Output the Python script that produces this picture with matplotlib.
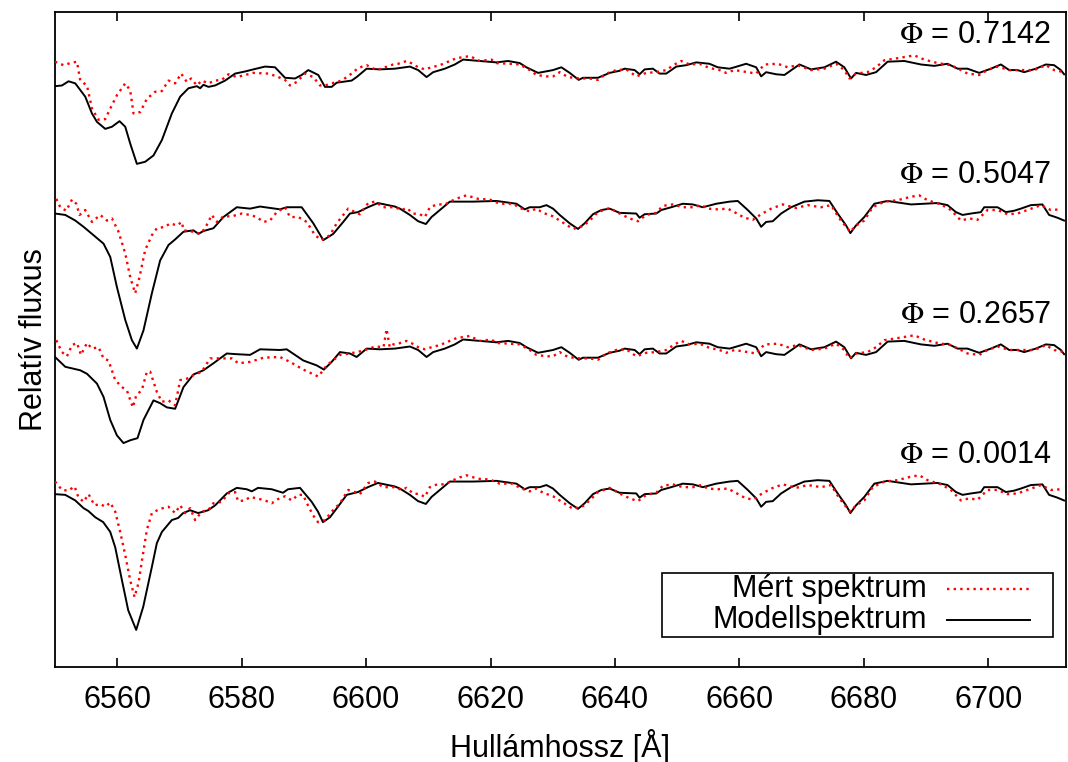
import matplotlib.pyplot as plt
from matplotlib.patches import Rectangle

plt.rcParams['font.family'] = ['Liberation Sans', 'DejaVu Sans']
plt.rcParams['mathtext.fontset'] = 'stix'

# phases and vertical shifts of the spectra
phases = ['0.0014', '0.2657', '0.5047', '0.7142']
shifts = [0.0, 0.2, 0.4, 0.6]

# model spectrum, phase 0.0014
wl_mod_0014 = [6550.0, 6551.65, 6553.26, 6554.59, 6555.35, 6556.47, 6557.75, 6558.88, 6559.68, 6560.76,
               6561.77, 6563.05, 6564.18, 6565.57, 6566.37, 6567.18, 6568.78, 6569.79, 6570.60, 6571.72,
               6573.01, 6574.61, 6575.74, 6577.61, 6579.22, 6580.82, 6581.63, 6582.64, 6584.84, 6586.65,
               6587.45, 6589.38, 6591.26, 6592.27, 6593.07, 6594.20, 6595.48, 6596.88, 6598.69, 6600.30,
               6601.90, 6604.63, 6605.44, 6607.04, 6608.37, 6609.61, 6610.52, 6611.86, 6613.46, 6617.20,
               6620.96, 6624.17, 6625.50, 6626.30, 6627.91, 6628.99, 6630.05, 6631.12, 6632.73, 6634.06,
               6635.13, 6636.47, 6637.81, 6639.15, 6640.75, 6643.43, 6643.96, 6644.77, 6646.64, 6647.45,
               6649.05, 6650.91, 6652.52, 6654.13, 6656.28, 6658.41, 6659.74, 6661.35, 6662.70, 6663.50,
               6664.30, 6665.36, 6666.71, 6668.32, 6670.45, 6672.59, 6674.47, 6675.80, 6677.15, 6677.84,
               6678.75, 6680.08, 6681.69, 6683.82, 6687.58, 6691.85, 6693.46, 6694.81, 6695.87, 6697.22,
               6698.82, 6699.35, 6701.49, 6702.83, 6704.17, 6705.24, 6706.85, 6708.71, 6709.78, 6711.12,
               6712.19]
fl_mod_0014 = [0.980, 0.979, 0.971, 0.960, 0.956, 0.947, 0.940, 0.926, 0.904, 0.857,
               0.814, 0.786, 0.819, 0.876, 0.910, 0.926, 0.943, 0.946, 0.953, 0.957,
               0.953, 0.957, 0.964, 0.981, 0.989, 0.987, 0.984, 0.989, 0.987, 0.982,
               0.987, 0.989, 0.969, 0.955, 0.940, 0.947, 0.962, 0.979, 0.983, 0.990,
               0.996, 0.991, 0.988, 0.979, 0.970, 0.966, 0.976, 0.986, 0.998, 0.998,
               0.999, 0.995, 0.987, 0.990, 0.990, 0.993, 0.988, 0.979, 0.967, 0.959,
               0.967, 0.980, 0.986, 0.988, 0.982, 0.981, 0.975, 0.980, 0.981, 0.986,
               0.990, 0.995, 0.994, 0.990, 0.995, 0.998, 0.999, 0.986, 0.974, 0.962,
               0.969, 0.970, 0.981, 0.990, 0.998, 1.000, 0.999, 0.981, 0.964, 0.953,
               0.964, 0.976, 0.995, 0.999, 0.994, 0.996, 0.993, 0.983, 0.979, 0.981,
               0.983, 0.990, 0.990, 0.983, 0.985, 0.988, 0.993, 0.994, 0.979, 0.975,
               0.971]

# measured spectrum, phase 0.0014
wl_obs_0014 = [6550.0, 6551.12, 6552.14, 6553.15, 6553.74, 6554.59, 6555.39, 6556.36, 6557.27, 6558.08,
               6558.88, 6559.68, 6560.48, 6561.29, 6562.09, 6562.78, 6563.42, 6564.06, 6564.77, 6565.57,
               6566.90, 6568.24, 6569.31, 6570.12, 6570.92, 6571.72, 6572.52, 6573.60, 6574.61, 6575.46,
               6576.81, 6577.82, 6578.95, 6579.43, 6580.55, 6581.35, 6582.43, 6583.76, 6584.84, 6585.85,
               6586.97, 6588.05, 6589.06, 6589.86, 6590.66, 6591.47, 6592.27, 6593.39, 6594.47, 6595.80,
               6597.13, 6598.21, 6599.01, 6600.34, 6601.42, 6602.75, 6604.63, 6605.71, 6606.51, 6607.57,
               6608.64, 6609.45, 6610.25, 6611.42, 6612.66, 6613.73, 6615.07, 6616.14, 6618.00, 6619.88,
               6621.49, 6623.62, 6624.70, 6626.30, 6627.38, 6628.44, 6630.05, 6631.65, 6633.26, 6634.86,
               6635.94, 6637.27, 6639.15, 6640.75, 6642.36, 6643.69, 6645.04, 6646.64, 6647.70, 6649.31,
               6650.91, 6652.52, 6653.87, 6654.93, 6656.53, 6658.14, 6659.21, 6660.82, 6662.15, 6663.50,
               6665.11, 6666.97, 6669.12, 6670.98, 6673.13, 6674.74, 6676.07, 6677.15, 6677.84, 6678.75,
               6680.08, 6681.42, 6683.30, 6685.43, 6687.58, 6688.91, 6690.25, 6692.40, 6694.00, 6695.61,
               6696.94, 6698.28, 6699.88, 6701.49, 6703.09, 6704.70, 6706.30, 6708.45, 6710.06, 6711.67]
fl_obs_0014 = [0.998, 0.986, 0.985, 0.991, 0.976, 0.969, 0.980, 0.964, 0.966, 0.962,
               0.968, 0.955, 0.926, 0.893, 0.857, 0.833, 0.853, 0.890, 0.929, 0.953,
               0.959, 0.962, 0.953, 0.964, 0.953, 0.960, 0.943, 0.955, 0.957, 0.967,
               0.969, 0.981, 0.983, 0.970, 0.971, 0.976, 0.974, 0.971, 0.967, 0.973,
               0.977, 0.971, 0.979, 0.979, 0.964, 0.950, 0.940, 0.943, 0.955, 0.967,
               0.986, 0.983, 0.980, 0.996, 0.998, 0.990, 0.990, 0.986, 0.989, 0.981,
               0.980, 0.976, 0.990, 0.994, 0.994, 0.999, 1.004, 1.007, 1.002, 1.001,
               0.995, 0.995, 0.989, 0.984, 0.988, 0.982, 0.977, 0.968, 0.959, 0.963,
               0.971, 0.983, 0.989, 0.981, 0.974, 0.970, 0.979, 0.982, 0.992, 0.994,
               0.990, 0.990, 0.993, 0.988, 0.987, 0.988, 0.983, 0.975, 0.972, 0.980,
               0.988, 0.994, 0.989, 0.993, 0.990, 0.993, 0.974, 0.962, 0.955, 0.964,
               0.971, 0.990, 0.998, 1.000, 1.005, 1.007, 1.000, 0.994, 0.986, 0.971,
               0.974, 0.972, 0.986, 0.986, 0.980, 0.981, 0.986, 0.993, 0.986, 0.987]

# model spectrum, phase 0.7142
wl_mod_7142 = [6550.0, 6551.12, 6552.18, 6553.26, 6554.86, 6555.94, 6556.74, 6558.08, 6559.15, 6560.37,
               6561.29, 6562.09, 6563.16, 6564.50, 6565.83, 6567.18, 6568.78, 6570.12, 6571.45, 6572.80,
               6573.33, 6573.86, 6574.66, 6575.73, 6577.34, 6578.95, 6580.55, 6581.88, 6583.76, 6585.37,
               6586.97, 6588.58, 6589.65, 6590.71, 6592.32, 6593.39, 6594.47, 6595.27, 6597.68, 6598.48,
               6600.09, 6602.22, 6604.63, 6607.04, 6608.37, 6609.72, 6610.78, 6612.66, 6614.26, 6615.60,
               6618.28, 6620.96, 6622.82, 6624.70, 6625.77, 6627.64, 6630.05, 6631.39, 6632.73, 6634.17,
               6634.86, 6637.27, 6639.15, 6640.75, 6641.56, 6643.17, 6643.96, 6644.77, 6646.10, 6647.18,
               6648.25, 6649.86, 6651.46, 6653.07, 6655.20, 6656.53, 6658.41, 6659.21, 6661.09, 6662.70,
               6663.50, 6664.30, 6665.91, 6667.24, 6669.65, 6671.53, 6673.67, 6675.54, 6676.87, 6677.95,
               6678.75, 6680.36, 6681.97, 6683.83, 6686.51, 6689.19, 6691.33, 6693.46, 6695.07, 6696.67,
               6698.55, 6700.43, 6702.03, 6703.37, 6704.70, 6705.78, 6707.65, 6709.26, 6710.59, 6711.67,
               6712.20]
fl_mod_7142 = [0.963, 0.964, 0.970, 0.967, 0.948, 0.924, 0.912, 0.902, 0.905, 0.913,
               0.905, 0.881, 0.852, 0.855, 0.864, 0.886, 0.924, 0.948, 0.960, 0.963,
               0.960, 0.965, 0.962, 0.964, 0.971, 0.981, 0.984, 0.987, 0.991, 0.990,
               0.975, 0.974, 0.979, 0.986, 0.979, 0.962, 0.962, 0.968, 0.971, 0.976,
               0.988, 0.987, 0.988, 0.991, 0.986, 0.976, 0.983, 0.988, 0.994, 1.001,
               0.999, 0.997, 0.999, 0.996, 0.990, 0.982, 0.986, 0.990, 0.982, 0.972,
               0.975, 0.975, 0.982, 0.985, 0.988, 0.986, 0.980, 0.987, 0.988, 0.981,
               0.981, 0.991, 0.993, 0.997, 0.995, 0.990, 0.988, 0.990, 0.995, 0.990,
               0.977, 0.983, 0.980, 0.979, 0.994, 0.987, 0.990, 0.998, 0.990, 0.974,
               0.982, 0.979, 0.983, 0.998, 0.999, 0.994, 0.992, 0.995, 0.988, 0.988,
               0.982, 0.988, 0.994, 0.986, 0.986, 0.983, 0.988, 0.994, 0.993, 0.986,
               0.980]

# measured spectrum, phase 0.7142
wl_obs_7142 = [6550.0, 6551.38, 6552.46, 6553.53, 6554.06, 6555.14, 6555.94, 6557.00, 6558.08, 6558.88,
               6559.95, 6561.29, 6562.09, 6562.62, 6563.69, 6564.77, 6566.10, 6567.18, 6568.24, 6569.31,
               6570.28, 6571.19, 6571.88, 6572.80, 6573.60, 6574.66, 6575.73, 6576.81, 6577.87, 6579.22,
               6580.55, 6581.88, 6584.29, 6585.64, 6586.97, 6587.77, 6588.85, 6590.18, 6591.52, 6592.59,
               6593.39, 6594.47, 6596.07, 6597.68, 6598.74, 6600.09, 6601.69, 6603.03, 6604.36, 6605.16,
               6606.51, 6607.47, 6608.37, 6609.45, 6610.52, 6611.86, 6613.19, 6614.54, 6616.67, 6618.28,
               6620.15, 6620.96, 6623.09, 6624.70, 6626.30, 6627.38, 6628.99, 6630.05, 6631.12, 6632.45,
               6634.33, 6635.94, 6637.27, 6638.62, 6640.22, 6641.83, 6643.43, 6645.04, 6646.64, 6648.25,
               6649.58, 6650.66, 6651.99, 6653.60, 6655.20, 6656.81, 6657.88, 6659.21, 6661.35, 6662.70,
               6664.03, 6666.17, 6667.77, 6669.38, 6671.53, 6673.67, 6675.54, 6676.87, 6677.68, 6678.75,
               6680.61, 6681.96, 6683.30, 6685.43, 6688.11, 6689.72, 6691.85, 6694.00, 6695.61, 6696.67,
               6698.55, 6699.88, 6701.49, 6703.37, 6705.24, 6707.38, 6709.26, 6710.59, 6712.20]
fl_obs_7142 = [0.998, 0.993, 0.996, 0.998, 0.971, 0.964, 0.931, 0.915, 0.916, 0.931,
               0.950, 0.967, 0.957, 0.924, 0.926, 0.945, 0.955, 0.956, 0.971, 0.967,
               0.981, 0.969, 0.974, 0.964, 0.971, 0.967, 0.971, 0.972, 0.980, 0.976,
               0.979, 0.982, 0.981, 0.977, 0.972, 0.964, 0.969, 0.981, 0.976, 0.964,
               0.964, 0.967, 0.971, 0.981, 0.989, 0.993, 0.986, 0.990, 0.994, 0.995,
               0.999, 0.995, 0.990, 0.987, 0.990, 0.993, 0.998, 1.003, 1.006, 0.999,
               1.001, 0.996, 0.995, 0.994, 0.986, 0.979, 0.977, 0.977, 0.983, 0.976,
               0.974, 0.974, 0.972, 0.981, 0.986, 0.987, 0.977, 0.982, 0.983, 0.986,
               0.994, 0.999, 0.994, 0.995, 0.989, 0.986, 0.982, 0.986, 0.983, 0.981,
               0.994, 0.995, 0.990, 0.993, 0.986, 0.988, 0.995, 0.986, 0.974, 0.981,
               0.983, 0.990, 1.000, 1.003, 1.007, 1.001, 0.996, 0.993, 0.986, 0.981,
               0.979, 0.986, 0.991, 0.986, 0.986, 0.986, 0.993, 0.986, 0.983]

# H-alpha region of phase 0.2657 (read separately, the rest follows phase 0.7142)
wl_mod_2657_ha = [6550.0, 6551.65, 6554.06, 6555.14, 6556.74, 6557.80, 6558.88, 6559.95, 6561.01, 6562.09,
                  6563.26, 6564.22, 6565.83, 6566.90, 6567.98, 6569.31, 6570.65, 6572.25, 6573.86, 6575.46,
                  6577.61, 6579.22, 6581.35, 6582.96, 6586.17, 6587.24, 6589.91, 6592.06, 6593.23, 6594.47,
                  6595.80, 6597.41]
fl_mod_2657_ha = [0.976, 0.962, 0.957, 0.952, 0.938, 0.919, 0.886, 0.864, 0.853, 0.857,
                  0.860, 0.886, 0.914, 0.910, 0.904, 0.902, 0.933, 0.951, 0.957, 0.967,
                  0.981, 0.980, 0.979, 0.987, 0.986, 0.987, 0.971, 0.964, 0.958, 0.969,
                  0.983, 0.981]
wl_obs_2657_ha = [6550.2, 6551.12, 6551.93, 6552.73, 6553.53, 6554.17, 6555.14, 6555.94, 6557.00, 6557.80,
                  6558.60, 6559.68, 6560.76, 6561.56, 6562.52, 6563.05, 6563.97, 6564.77, 6565.30, 6566.37,
                  6567.18, 6568.24, 6569.31, 6570.12, 6571.19, 6572.25, 6573.60, 6574.93, 6576.01, 6577.07,
                  6578.42, 6579.48, 6581.35, 6583.49, 6586.17, 6587.77, 6589.91, 6592.32, 6593.67, 6595.80,
                  6597.41, 6599.5, 6601.5, 6602.8, 6603.3, 6603.8]
fl_obs_2657_ha = [1.000, 0.983, 0.977, 0.993, 0.996, 0.979, 0.996, 0.988, 0.990, 0.974,
                  0.971, 0.943, 0.933, 0.928, 0.904, 0.921, 0.929, 0.955, 0.955, 0.926,
                  0.912, 0.914, 0.907, 0.943, 0.945, 0.950, 0.955, 0.974, 0.974, 0.974,
                  0.974, 0.967, 0.969, 0.975, 0.976, 0.969, 0.958, 0.948, 0.964, 0.979,
                  0.981, 0.985, 0.991, 0.990, 1.016, 0.990]

# H-alpha region of phase 0.5047 (read separately, the rest follows phase 0.0014)
wl_mod_5047_ha = [6550.0, 6551.65, 6553.26, 6554.59, 6556.20, 6557.80, 6558.88, 6559.95, 6561.29, 6562.36,
                  6563.16, 6564.22, 6565.57, 6566.90, 6568.24, 6569.31, 6570.65, 6572.25, 6573.05, 6573.86,
                  6575.46, 6577.07, 6579.22, 6581.35, 6582.96, 6586.17, 6587.24, 6589.65, 6591.52, 6593.12,
                  6594.73, 6596.33, 6597.41]
fl_mod_5047_ha = [0.981, 0.979, 0.971, 0.962, 0.950, 0.938, 0.919, 0.876, 0.829, 0.800,
                  0.788, 0.814, 0.867, 0.914, 0.936, 0.944, 0.955, 0.957, 0.952, 0.956,
                  0.960, 0.976, 0.990, 0.988, 0.991, 0.987, 0.990, 0.990, 0.967, 0.943,
                  0.952, 0.969, 0.981]
wl_obs_5047_ha = [6550.2, 6550.85, 6551.81, 6552.73, 6553.42, 6553.95, 6554.86, 6555.94, 6557.27, 6558.35,
                  6559.15, 6560.21, 6561.29, 6562.09, 6562.89, 6563.58, 6564.50, 6565.57, 6566.37, 6567.71,
                  6568.51, 6569.59, 6570.39, 6570.65, 6572.25, 6573.33, 6574.13, 6575.20, 6576.01, 6577.07,
                  6578.42, 6580.02, 6581.35, 6582.43, 6583.49, 6584.56, 6585.64, 6586.97, 6587.77, 6589.11,
                  6590.46, 6591.79, 6592.86, 6594.20, 6595.27, 6597.13]
fl_obs_5047_ha = [1.002, 0.990, 0.985, 1.001, 0.995, 0.979, 0.986, 0.969, 0.979, 0.971,
                  0.974, 0.955, 0.924, 0.890, 0.867, 0.890, 0.929, 0.950, 0.960, 0.962,
                  0.967, 0.964, 0.969, 0.957, 0.955, 0.952, 0.960, 0.979, 0.969, 0.977,
                  0.977, 0.981, 0.979, 0.976, 0.969, 0.971, 0.983, 0.990, 0.976, 0.976,
                  0.969, 0.950, 0.943, 0.950, 0.967, 0.988]


def join(wa, fa, wb, fb):
    # H-alpha part from (wa, fa), the metal-line part from (wb, fb)
    tail = [(w, f) for w, f in zip(wb, fb) if w > wa[-1] + 0.3]
    return list(wa) + [w for w, f in tail], list(fa) + [f for w, f in tail]


models = [(wl_mod_0014, fl_mod_0014),
          join(wl_mod_2657_ha, fl_mod_2657_ha, wl_mod_7142, fl_mod_7142),
          join(wl_mod_5047_ha, fl_mod_5047_ha, wl_mod_0014, fl_mod_0014),
          (wl_mod_7142, fl_mod_7142)]
observed = [(wl_obs_0014, fl_obs_0014),
            join(wl_obs_2657_ha, fl_obs_2657_ha, wl_obs_7142, fl_obs_7142),
            join(wl_obs_5047_ha, fl_obs_5047_ha, wl_obs_0014, fl_obs_0014),
            (wl_obs_7142, fl_obs_7142)]

fig = plt.figure(figsize=(10.68, 7.62), dpi=100)
ax = fig.add_axes([55 / 1068, 95 / 762, 1011 / 1068, 655 / 762])

red = '#ff0000'
for (wm, fm), (wo, fo), sh in zip(models, observed, shifts):
    ax.plot(wm, [f + sh for f in fm], color='black', lw=1.4, zorder=2)
    ax.plot(wo, [f + sh for f in fo], color=red, lw=1.7, linestyle=(0, (1.0, 1.8)), zorder=3)

for ph, sh in zip(phases, shifts):
    ax.text(6710.1, 1.036 + sh, r'$\Phi$ = ' + ph, ha='right', va='center', fontsize=22)

ax.set_xlim(6550, 6712.5)
ax.set_ylim(0.733, 1.669)
ax.set_xticks(range(6560, 6701, 20))
ax.set_yticks([])
ax.tick_params(axis='x', direction='in', length=6.5, width=1.2, top=True, labelsize=22, pad=13)
for s in ax.spines.values():
    s.set_linewidth(1.3)

ax.set_xlabel('Hullámhossz [Å]', fontsize=22, labelpad=10)
ax.set_ylabel('Relatív fluxus', fontsize=22, labelpad=4)

# legend box, gnuplot style (text right aligned, sample on the right)
ax.add_patch(Rectangle((0.6007, 0.046), 0.3863, 0.0977, transform=ax.transAxes,
                       fill=False, lw=1.2, edgecolor='black', zorder=5))
ax.text(0.8626, 0.1195, 'Mért spektrum', transform=ax.transAxes, ha='right', va='center', fontsize=22)
ax.text(0.8626, 0.0722, 'Modellspektrum', transform=ax.transAxes, ha='right', va='center', fontsize=22)
ax.plot([0.882, 0.9645], [0.1195, 0.1195], transform=ax.transAxes, color=red, lw=1.7,
        linestyle=(0, (1.0, 1.8)))
ax.plot([0.882, 0.9645], [0.0722, 0.0722], transform=ax.transAxes, color='black', lw=1.4)

fig.savefig('out.png', dpi=100)
